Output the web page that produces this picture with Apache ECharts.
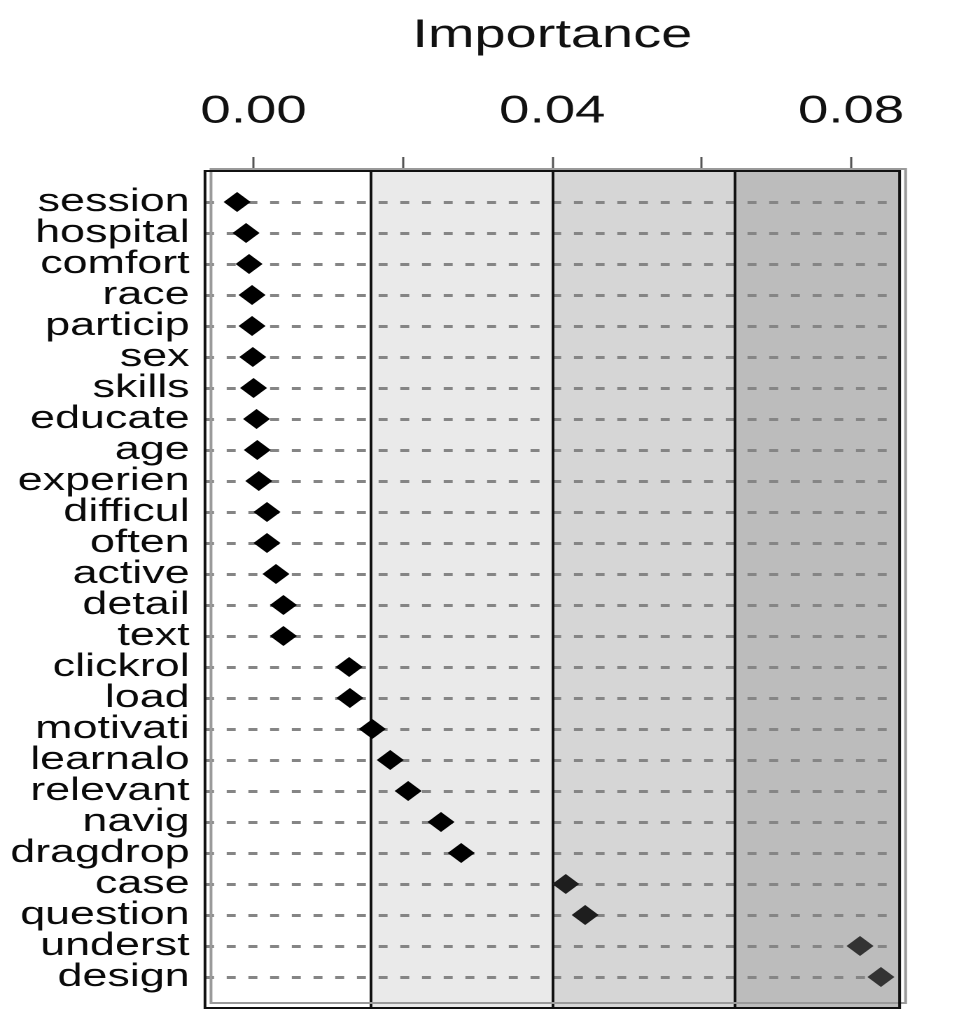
<!DOCTYPE html>
<html>
<head>
<meta charset="utf-8">
<script src="https://cdn.jsdelivr.net/npm/echarts@6/dist/echarts.min.js"></script>
<style>
html,body{margin:0;padding:0;background:#fff;overflow:hidden;}
#chart{height:1013px;transform-origin:0 0;}
</style>
</head>
<body>
<div id="chart"></div>
<script>
// ---- data ----
const categories = ['session','hospital','comfort','race','particip','sex','skills','educate','age','experien','difficul','often','active','detail','text','clickrol','load','motivati','learnalo','relevant','navig','dragdrop','case','question','underst','design'];
const importance = [-0.0022,-0.0010,-0.0006,-0.0002,-0.0002,-0.0001,0.0000,0.0004,0.0005,0.0007,0.0018,0.0018,0.0030,0.0040,0.0040,0.0128,0.0129,0.0159,0.0183,0.0207,0.0251,0.0278,0.0418,0.0444,0.0812,0.0840];
const bandEdges = [-0.0065, 0.0156, 0.0400, 0.0645, 0.0865];
const tickValues = [0, 0.02, 0.04, 0.06, 0.08];
const labelValues = [0, 0.04, 0.08];

// ---- style / layout ----
const S = 1.4; // the reference is horizontally stretched
const W = 971 / S;
const el = document.getElementById('chart');
el.style.width = W + 'px';
el.style.transform = 'scaleX(' + S + ')';
const FONT = 'Liberation Sans, Arial, Helvetica, sans-serif';
const bandColors = ['#ffffff', '#eaeaea', '#d6d6d6', '#bcbcbc'];

const chart = echarts.init(el, null, {renderer: 'canvas', devicePixelRatio: 2});

const bandAreas = [];
for (let i = 0; i < bandEdges.length - 1; i++) {
  bandAreas.push([{xAxis: bandEdges[i], itemStyle: {color: bandColors[i]}}, {xAxis: bandEdges[i + 1]}]);
}
const dividerLines = bandEdges.slice(1, -1).map(v => ({xAxis: v}));
const rowLines = categories.map(c => ({yAxis: c}));

const option = {
  animation: false,
  backgroundColor: '#ffffff',
  grid: [
    {left: 205 / S, right: W - 899 / S, top: 171, bottom: 5, show: true, z: 6,
     backgroundColor: 'transparent', borderColor: '#111', borderWidth: 2},
    {left: 211 / S, right: W - 905 / S, top: 169, bottom: 10, show: true, z: 5,
     backgroundColor: 'transparent', borderColor: '#9a9a9a', borderWidth: 2}
  ],
  xAxis: [
    {
      type: 'value', position: 'top', gridIndex: 0,
      min: bandEdges[0], max: bandEdges[bandEdges.length - 1],
      name: 'Importance', nameLocation: 'middle', nameGap: 115,
      nameTextStyle: {fontFamily: FONT, fontSize: 40, color: '#111'},
      axisLine: {show: false},
      axisTick: {show: true, inside: false, length: 14, customValues: tickValues,
                 lineStyle: {color: '#555', width: 1.5}},
      axisLabel: {show: true, customValues: labelValues, margin: 40,
                  formatter: v => v.toFixed(2),
                  fontFamily: FONT, fontSize: 39, color: '#111'},
      splitLine: {show: false}
    },
    {type: 'value', gridIndex: 1, show: false, min: 0, max: 1}
  ],
  yAxis: [
    {
      type: 'category', gridIndex: 0, inverse: true, boundaryGap: false,
      data: [''].concat(categories, ['']),
      axisLine: {show: false}, axisTick: {show: false},
      splitLine: {show: false},
      axisLabel: {show: true, interval: 0, margin: 11, fontFamily: FONT, fontSize: 32, color: '#0a0a0a'}
    },
    {type: 'value', gridIndex: 1, show: false, min: 0, max: 1}
  ],
  series: [
    {
      name: 'bands', type: 'scatter', xAxisIndex: 0, yAxisIndex: 0, z: 1, silent: true,
      data: [],
      markArea: {silent: true, z: 1, data: bandAreas}
    },
    {
      name: 'rows', type: 'scatter', xAxisIndex: 0, yAxisIndex: 0, z: 2, silent: true,
      data: [],
      markLine: {silent: true, z: 2, symbol: 'none', label: {show: false}, precision: 6,
                 lineStyle: {color: '#858585', width: 3, type: [6.4, 9.1]},
                 data: rowLines}
    },
    {
      name: 'dividers', type: 'scatter', xAxisIndex: 0, yAxisIndex: 0, z: 3, silent: true,
      data: [],
      markLine: {silent: true, z: 3, symbol: 'none', label: {show: false}, precision: 6,
                 lineStyle: {color: '#111', width: 2, type: 'solid'},
                 data: dividerLines}
    },
    {
      name: 'importance', type: 'scatter', xAxisIndex: 0, yAxisIndex: 0, z: 10,
      symbol: 'diamond', symbolSize: [27 / S, 20],
      itemStyle: {opacity: 1,
                  color: p => p.value[0] > 0.0645 ? '#333' : (p.value[0] > 0.04 ? '#1e1e1e' : '#000')},
      data: categories.map((c, i) => [importance[i], c])
    }
  ]
};
chart.setOption(option);
</script>
</body>
</html>
